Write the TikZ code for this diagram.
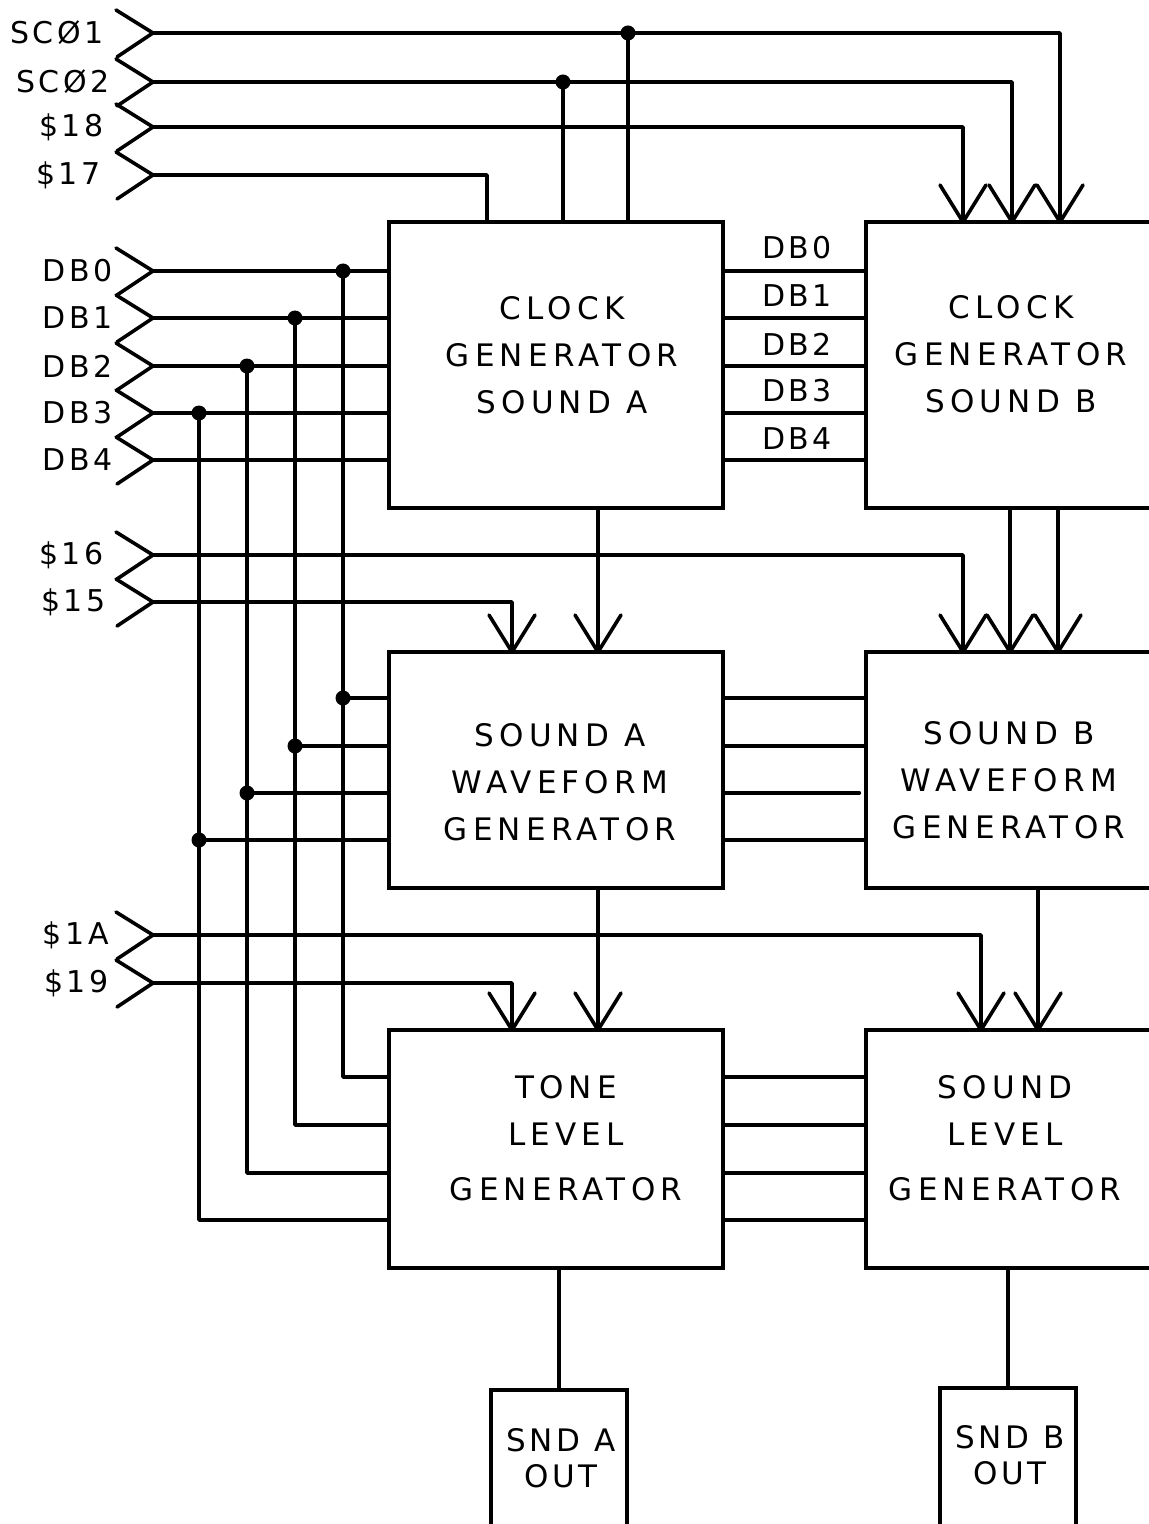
\documentclass[tikz,border=0pt]{standalone}
\usepackage{fontspec}
\usetikzlibrary{fit}
\newfontfamily\lett[LetterSpace=12]{DejaVu Sans}
\newfontfamily\blett[LetterSpace=17]{DejaVu Sans}
\begin{document}
\begin{tikzpicture}[x=0.5pt,y=-0.5pt,
  wire/.style={line width=1.8pt, line cap=round, line join=round},
  blk/.style={draw, line width=2.3pt, inner sep=0pt},
  lab/.style={font=\lett\fontsize{15}{18}\selectfont, inner sep=0pt},
  btxt/.style={font=\blett\fontsize{15.5}{23.5}\selectfont, align=center, inner sep=0pt},
  otxt/.style={font=\lett\fontsize{15.5}{18}\selectfont, align=center, inner sep=0pt},
  dot/.style={circle, fill, inner sep=0pt, minimum size=7.5pt}]
\fill[white] (0,0) rectangle (1149,1524);
\path[use as bounding box] (0,0) rectangle (1149,1524);
\clip (0,0) rectangle (1149,1524);

% blocks
\node[blk, fit={(389,222)(723,508)}] (clkA) {};
\node[blk, fit={(866,222)(1200,508)}] (clkB) {};
\node[blk, fit={(389,652)(723,888)}] (waveA) {};
\node[blk, fit={(866,652)(1200,888)}] (waveB) {};
\node[blk, fit={(389,1030)(723,1268)}] (tone) {};
\node[blk, fit={(866,1030)(1200,1268)}] (slev) {};
\node[blk, fit={(491,1390)(627,1560)}] (outA) {};
\node[blk, fit={(940,1388)(1076,1560)}] (outB) {};

% block texts
\node[btxt] (clkAt) at (562,355) {CLOCK\\GENERATOR\\SOUND A};
\node[btxt] (clkBt) at (1011,354) {CLOCK\\GENERATOR\\SOUND B};
\node[btxt] (waveAt) at (560,782) {SOUND A\\WAVEFORM\\GENERATOR};
\node[btxt] (waveBt) at (1009,780) {SOUND B\\WAVEFORM\\GENERATOR};
\node[btxt] (tonet) at (566,1138) {TONE\\LEVEL\\[4pt]GENERATOR};
\node[btxt] (slevt) at (1005,1138) {SOUND\\LEVEL\\[4pt]GENERATOR};
\node[otxt] (outAt) at (561,1458) {SND A\\OUT};
\node[otxt] (outBt) at (1010,1455) {SND B\\OUT};

% inputs
\coordinate (iSC1) at (153,33);
\coordinate (iSC2) at (153,82);
\coordinate (i18) at (153,127);
\coordinate (i17) at (153,175);
\coordinate (iD0) at (153,271);
\coordinate (iD1) at (153,318);
\coordinate (iD2) at (153,366);
\coordinate (iD3) at (153,413);
\coordinate (iD4) at (153,460);
\coordinate (i16) at (153,555);
\coordinate (i15) at (153,602);
\coordinate (i1A) at (153,935);
\coordinate (i19) at (153,983);

\foreach \p in {iSC1,iSC2,i18,i17,iD0,iD1,iD2,iD3,iD4,i16,i15,i1A,i19}
  \draw[wire] (\p) ++(-37,-23) -- (\p) -- ++(-36,24);

\node[lab, anchor=east] (lSC1) at (104,33) {SCØ1};
\node[lab, anchor=east] (lSC2) at (110,82) {SCØ2};
\node[lab, anchor=east] (l18) at (104,127) {\$18};
\node[lab, anchor=east] (l17) at (101,175) {\$17};
\node[lab, anchor=west] (lD0) at (42,271) {DB0};
\node[lab, anchor=west] (lD1) at (42,318) {DB1};
\node[lab, anchor=west] (lD2) at (42,366) {DB2};
\node[lab, anchor=west] (lD3) at (42,413) {DB3};
\node[lab, anchor=west] (lD4) at (42,460) {DB4};
\node[lab, anchor=east] (l16) at (104,555) {\$16};
\node[lab, anchor=east] (l15) at (106,602) {\$15};
\node[lab, anchor=east] (l1A) at (109,935) {\$1A};
\node[lab, anchor=east] (l19) at (109,983) {\$19};

% arrow tip points
\coordinate (tB18) at (963,222);
\coordinate (tBS2) at (1012,222);
\coordinate (tBS1) at (1060,222);
\coordinate (a17) at (487,222);
\coordinate (tWA1) at (512,652);
\coordinate (tWA2) at (598,652);
\coordinate (tWB1) at (963,652);
\coordinate (tWB2) at (1010,652);
\coordinate (tWB3) at (1058,652);
\coordinate (tT1) at (512,1030);
\coordinate (tT2) at (598,1030);
\coordinate (tS1) at (981,1030);
\coordinate (tS2) at (1038,1030);

% junction dots
\node[dot] (jS1) at (628,33) {};
\node[dot] (jS2) at (563,82) {};
\node[dot] (j0) at (343,271) {};
\node[dot] (j1) at (295,318) {};
\node[dot] (j2) at (247,366) {};
\node[dot] (j3) at (199,413) {};
\node[dot] (w0) at (343,698) {};
\node[dot] (w1) at (295,746) {};
\node[dot] (w2) at (247,793) {};
\node[dot] (w3) at (199,840) {};
\coordinate (e0) at (389,1077);
\coordinate (e1) at (389,1125);
\coordinate (e2) at (389,1173);
\coordinate (e3) at (389,1220);

% top wires
\draw[wire] (iSC1) -| (tBS1);
\draw[wire] (iSC2) -| (tBS2);
\draw[wire] (i18) -| (tB18);
\draw[wire] (i17) -| (a17);
\draw[wire] (jS1.center) -- (jS1 |- clkA.north);
\draw[wire] (jS2.center) -- (jS2 |- clkA.north);

% data bus
\foreach \p in {iD0,iD1,iD2,iD3,iD4}
  \draw[wire] (\p) -- (\p -| clkA.west);
\foreach \p in {iD0,iD1,iD2,iD3}
  \draw[wire] (clkA.east |- \p) -- (clkB.west |- \p);
\draw[wire] (clkA.east |- iD4) -- ++(139,0);
\node[lab] (mD0) at (797,248) {DB0};
\node[lab] (mD1) at (797,296) {DB1};
\node[lab] (mD2) at (797,344) {DB2};
\node[lab] (mD3) at (797,391) {DB3};
\node[lab] (mD4) at (797,439) {DB4};

\draw[wire] (j0.center) |- (e0);
\draw[wire] (j1.center) |- (e1);
\draw[wire] (j2.center) |- (e2);
\draw[wire] (j3.center) |- (e3);
\foreach \p in {w0,w1,w2,w3}
  \draw[wire] (\p.center) -- (\p -| waveA.west);
\foreach \p in {w0,w1,w3}
  \draw[wire] (waveA.east |- \p) -- (waveB.west |- \p);
\draw[wire] (waveA.east |- w2) -- ++(134,0);
\foreach \p in {e0,e1,e2,e3}
  \draw[wire] (tone.east |- \p) -- (slev.west |- \p);

% middle wires
\draw[wire] (tWA2 |- clkA.south) -- (tWA2);
\draw[wire] (tWB2 |- clkB.south) -- (tWB2);
\draw[wire] (tWB3 |- clkB.south) -- (tWB3);
\draw[wire] (i16) -| (tWB1);
\draw[wire] (i15) -| (tWA1);
\draw[wire] (tT2 |- waveA.south) -- (tT2);
\draw[wire] (tS2 |- waveB.south) -- (tS2);
\draw[wire] (i1A) -| (tS1);
\draw[wire] (i19) -| (tT1);
\draw[wire] (outA.north |- tone.south) -- (outA.north);
\draw[wire] (outB.north |- slev.south) -- (outB.north);

% V arrowheads
\foreach \p in {tB18,tBS2,tBS1,tWA1,tWA2,tWB1,tWB2,tWB3,tT1,tT2,tS1,tS2}
  \draw[wire] (\p) ++(-23,-37) -- (\p) -- ++(23,-37);
\end{tikzpicture}
\end{document}
